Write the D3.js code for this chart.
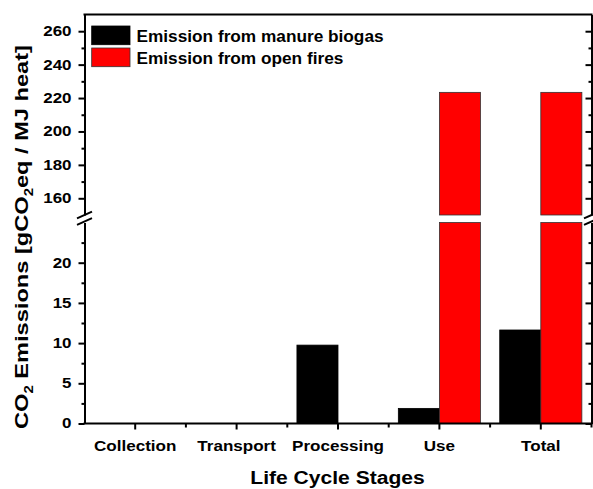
<!DOCTYPE html>
<html>
<head>
<meta charset="utf-8">
<script src="https://cdn.jsdelivr.net/npm/d3@7"></script>
<style>
  html, body { margin: 0; padding: 0; background: #fff; }
  svg { display: block; }
  text { font-family: "Liberation Sans", Arial, sans-serif; font-weight: bold; fill: #000; }
</style>
</head>
<body>
<svg id="chart" width="593" height="489"></svg>
<script>
// Life-cycle stages and the emissions of each source (gCO2eq / MJ heat)
const categories = ["Collection", "Transport", "Processing", "Use", "Total"];
const biogas = [0, 0, 9.75, 1.88, 11.63];
const openFires = [0, 0, 0, 223.4, 223.4];
const seriesNames = ["Emission from manure biogas", "Emission from open fires"];
const seriesColors = ["#000000", "#ff0000"];

// Broken y axis: a lower segment and an upper segment
const lowerDomain = [0, 25];
const upperDomain = [150, 270];
const lowerTicks = [0, 5, 10, 15, 20];
const lowerMinor = [2.5, 7.5, 12.5, 17.5, 22.5];
const upperTicks = [160, 180, 200, 220, 240, 260];
const upperMinor = [170, 190, 210, 230, 250];

const xLabel = "Life Cycle Stages";

const svg = d3.select("#chart");
const plotL = 84.5, plotR = 591.5, plotT = 14.5, plotB = 423.5;
const gapBottom = 222.5, gapTop = 215;

const x = d3.scaleBand().domain(categories).range([plotL, plotR]).padding(0);
const yLow = d3.scaleLinear().domain(lowerDomain).range([plotB, gapBottom]);
const yUp = d3.scaleLinear().domain(upperDomain).range([gapTop, plotT]);
const barW = x.bandwidth() * 0.405;

// stretch a text element horizontally along its own direction
function widen(sel, k) {
  sel.each(function () {
    const n = this.getComputedTextLength();
    d3.select(this).attr("textLength", n * k).attr("lengthAdjust", "spacingAndGlyphs");
  });
}

// bars
const series = [biogas, openFires];
series.forEach((vals, s) => {
  const g = svg.append("g");
  vals.forEach((v, i) => {
    if (v <= 0) return;
    const x0 = x(categories[i]) + x.bandwidth() / 2 + (s === 0 ? -barW : 0);
    const stroke = s === 0 ? "#000" : "#333";
    const lowTop = yLow(Math.min(v, lowerDomain[1]));
    g.append("rect")
      .attr("x", x0).attr("y", lowTop)
      .attr("width", barW).attr("height", yLow(0) - lowTop)
      .attr("fill", seriesColors[s]).attr("stroke", stroke).attr("stroke-width", 0.8);
    if (v > upperDomain[0]) {
      const upTop = yUp(Math.min(v, upperDomain[1]));
      g.append("rect")
        .attr("x", x0).attr("y", upTop)
        .attr("width", barW).attr("height", yUp(upperDomain[0]) - upTop)
        .attr("fill", seriesColors[s]).attr("stroke", stroke).attr("stroke-width", 0.8);
    }
  });
});

function styleAxis(g) {
  g.selectAll("path.domain").attr("stroke", "#000").attr("stroke-width", 2);
  g.selectAll(".tick line").attr("stroke", "#000").attr("stroke-width", 2);
}

// left axis, both segments
[[yLow, lowerTicks, lowerMinor], [yUp, upperTicks, upperMinor]].forEach(([sc, maj, mnr]) => {
  const gM = svg.append("g").attr("transform", `translate(${plotL},0)`)
    .call(d3.axisLeft(sc).tickValues(maj).tickSize(6).tickSizeOuter(0).tickPadding(7).tickFormat(d3.format("d")));
  styleAxis(gM);
  gM.selectAll("text").attr("font-size", 14).attr("fill", "#000").call(widen, 1.21);
  const gm = svg.append("g").attr("transform", `translate(${plotL},0)`)
    .call(d3.axisLeft(sc).tickValues(mnr).tickSize(3).tickSizeOuter(0).tickFormat(""));
  styleAxis(gm);
  gm.select("path.domain").remove();

  // right axis with inward ticks
  const rM = svg.append("g").attr("transform", `translate(${plotR},0)`)
    .call(d3.axisLeft(sc).tickValues(maj).tickSize(-6).tickSizeOuter(0).tickFormat(""));
  styleAxis(rM);
  rM.selectAll(".tick line").attr("x2", -6);
  const rm = svg.append("g").attr("transform", `translate(${plotR},0)`)
    .call(d3.axisLeft(sc).tickValues(mnr).tickSize(-3).tickSizeOuter(0).tickFormat(""));
  styleAxis(rm);
  rm.selectAll(".tick line").attr("x2", -3);
  rm.select("path.domain").remove();
});

// bottom axis
const xb = svg.append("g").attr("transform", `translate(0,${plotB})`)
  .call(d3.axisBottom(x).tickSize(6).tickSizeOuter(0).tickPadding(10));
styleAxis(xb);
xb.select("path.domain").attr("d", `M${plotL - 1},0H${plotR + 1}`);
xb.selectAll("text").attr("font-size", 15.5).attr("fill", "#000").attr("dy", "0.71em").call(widen, 1.1);
const boundaries = categories.slice(1).map(c => x(c)).concat([plotR]);
xb.selectAll("line.minor").data(boundaries).join("line")
  .attr("class", "minor")
  .attr("x1", d => d).attr("x2", d => d).attr("y1", 0).attr("y2", 4)
  .attr("stroke", "#000").attr("stroke-width", 2);

// top frame line
svg.append("line").attr("x1", plotL - 1).attr("x2", plotR + 1).attr("y1", plotT).attr("y2", plotT)
  .attr("stroke", "#000").attr("stroke-width", 2);

// axis break marks
[plotL, plotR].forEach(ax => {
  [gapTop, gapBottom - 1].forEach(yb => {
    svg.append("line")
      .attr("x1", ax - 7.5).attr("y1", yb + 3.3)
      .attr("x2", ax + 7.5).attr("y2", yb - 3.3)
      .attr("stroke", "#000").attr("stroke-width", 2);
  });
});

// legend
const legend = svg.append("g");
seriesNames.forEach((name, i) => {
  const ly = 26 + i * 22;
  legend.append("rect")
    .attr("x", 91.7).attr("y", ly).attr("width", 38.3).attr("height", 18.7)
    .attr("fill", seriesColors[i]).attr("stroke", i === 0 ? "#000" : "#333").attr("stroke-width", 0.8);
  legend.append("text")
    .attr("x", 136.5).attr("y", ly + 15.5)
    .attr("font-size", 16)
    .text(name)
    .call(widen, 1.077);
});

// axis titles
svg.append("text")
  .attr("x", (plotL + plotR) / 2 - 0.5).attr("y", 483.5)
  .attr("text-anchor", "middle").attr("font-size", 18)
  .text(xLabel)
  .call(widen, 1.17);

const yt = svg.append("text")
  .attr("transform", "translate(27.5,237) rotate(-90)")
  .attr("text-anchor", "middle").attr("font-size", 19);
yt.append("tspan").text("CO");
yt.append("tspan").attr("font-size", 12).attr("dy", 5).text("2");
yt.append("tspan").attr("dy", -5).text(" Emissions [gCO");
yt.append("tspan").attr("font-size", 12).attr("dy", 5).text("2");
yt.append("tspan").attr("dy", -5).text("eq / MJ heat]");
yt.attr("textLength", 384).attr("lengthAdjust", "spacingAndGlyphs");
</script>
</body>
</html>
